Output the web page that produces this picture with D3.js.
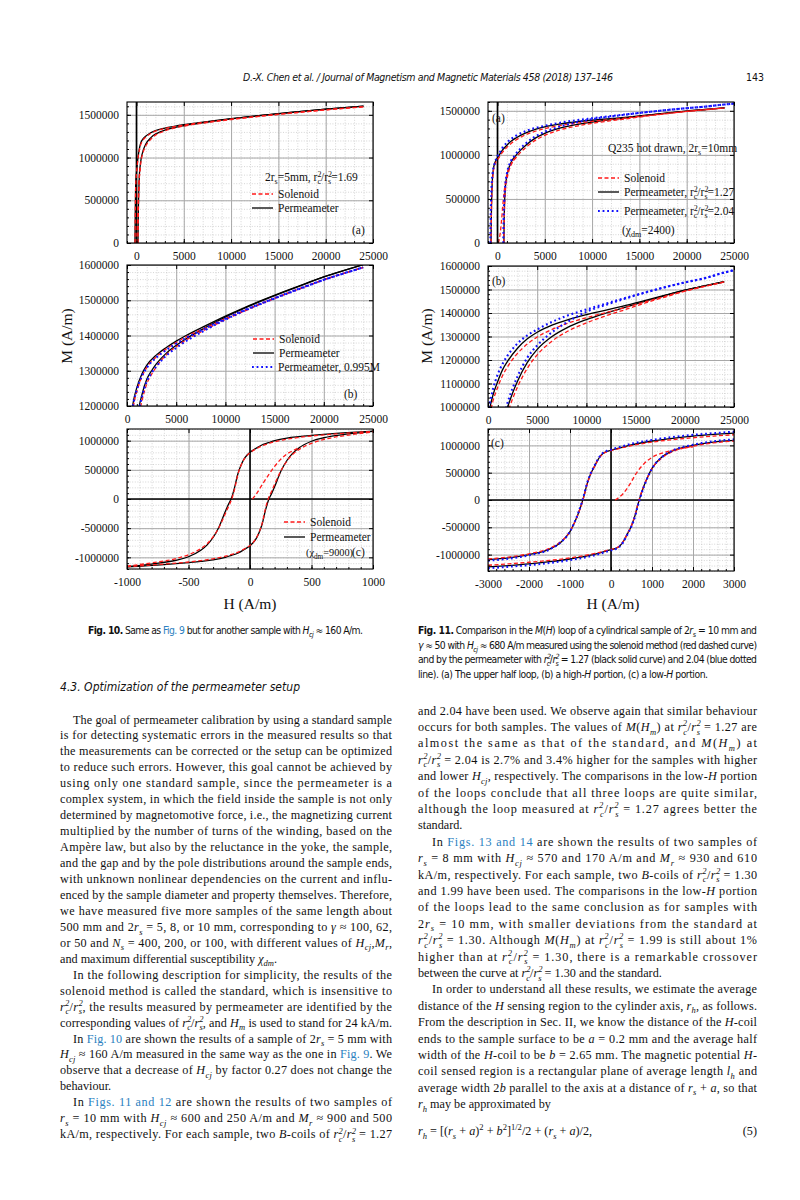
<!DOCTYPE html>
<html>
<head>
<meta charset="utf-8">
<script src="https://cdn.jsdelivr.net/npm/d3@7"></script>
<style>
  body { margin: 0; background: #fff; }
</style>
</head>
<body>
<svg id="page" width="800" height="1200"></svg>
<script>
"use strict";

// ---------- Fig. 10 : upper half loop (panels a, b) ----------
const h10DescHi = [-160, -140, -120, -100, -60, 0, 100, 200, 300, 400, 550, 700, 1000, 1500, 2000, 3000, 4000, 5000, 6000, 8000, 10000, 12000, 14000, 16000, 18000, 20000, 22000, 24000];
const m10PermDescHi = [0, 200000, 420000, 580000, 740000, 820000, 940000, 1030000, 1100000, 1150000, 1195000, 1220000, 1252000, 1290000, 1315000, 1345000, 1366000, 1384000, 1400000, 1428000, 1455000, 1480000, 1503000, 1525000, 1546000, 1566000, 1584000, 1601000];
const m10SolDescHi = [0, 190000, 400000, 560000, 720000, 810000, 925000, 1015000, 1085000, 1135000, 1180000, 1207000, 1241000, 1282000, 1309000, 1340000, 1362000, 1380000, 1396000, 1422000, 1448000, 1472000, 1495000, 1517000, 1538000, 1558000, 1576000, 1593000];
const m10ScaledDescHi = [0, 199000, 418000, 577000, 736000, 816000, 935000, 1025000, 1095000, 1144000, 1189000, 1214000, 1246000, 1284000, 1308000, 1338000, 1359000, 1377000, 1393000, 1421000, 1448000, 1473000, 1495000, 1517000, 1538000, 1558000, 1576000, 1593000];

const h10AscHi = [160, 180, 200, 250, 300, 400, 500, 700, 1000, 1500, 2000, 2500, 3000, 4000, 5000, 6000, 8000, 10000, 12000, 14000, 16000, 18000, 20000, 22000, 24000];
const m10PermAscHi = [0, 200000, 380000, 620000, 780000, 910000, 990000, 1080000, 1160000, 1230000, 1275000, 1300000, 1320000, 1350000, 1372000, 1391000, 1423000, 1452000, 1478000, 1502000, 1524000, 1545000, 1566000, 1584000, 1601000];
const m10SolAscHi = [0, 180000, 350000, 590000, 750000, 885000, 970000, 1060000, 1140000, 1212000, 1262000, 1290000, 1312000, 1345000, 1368000, 1387000, 1417000, 1445000, 1470000, 1494000, 1516000, 1537000, 1558000, 1576000, 1593000];
const m10ScaledAscHi = [0, 199000, 378000, 617000, 776000, 905000, 985000, 1075000, 1154000, 1224000, 1269000, 1294000, 1313000, 1343000, 1365000, 1384000, 1416000, 1445000, 1471000, 1494000, 1516000, 1537000, 1558000, 1576000, 1593000];

// solenoid initial magnetization curve
const h10Init = [20, 50, 100, 150, 200, 250, 300, 350, 400];
const m10SolInit = [0, 80000, 250000, 410000, 560000, 680000, 770000, 830000, 880000];

// ---------- Fig. 10 : low-H loop (panel c) ----------
const h10DescLo = [-1000, -800, -600, -500, -400, -350, -300, -250, -200, -175, -150, -125, -100, -75, -50, -25, 0, 50, 100, 150, 200, 300, 400, 500, 700, 1000];
const m10PermDescLo = [-1160000, -1115000, -1050000, -990000, -880000, -790000, -660000, -470000, -210000, -90000, 20000, 200000, 420000, 570000, 680000, 750000, 800000, 870000, 930000, 965000, 1000000, 1045000, 1070000, 1090000, 1125000, 1165000];
const m10SolDescLo = [-1150000, -1095000, -1020000, -955000, -850000, -770000, -650000, -480000, -250000, -130000, -10000, 170000, 410000, 565000, 675000, 745000, 795000, 860000, 915000, 950000, 980000, 1025000, 1055000, 1080000, 1115000, 1160000];
const h10AscLo = [-1000, -700, -500, -400, -300, -200, -150, -100, -50, 0, 25, 50, 75, 100, 125, 150, 175, 200, 250, 300, 350, 400, 500, 600, 800, 1000];
const m10PermAscLo = [-1165000, -1125000, -1090000, -1070000, -1045000, -1000000, -965000, -930000, -870000, -800000, -750000, -680000, -570000, -420000, -200000, -20000, 90000, 210000, 470000, 660000, 790000, 880000, 990000, 1050000, 1115000, 1160000];
const m10SolAscLo = [-1160000, -1115000, -1080000, -1055000, -1025000, -980000, -950000, -915000, -860000, -795000, -745000, -675000, -565000, -410000, -170000, 10000, 130000, 250000, 480000, 650000, 770000, 850000, 955000, 1020000, 1095000, 1150000];

// ---------- Fig. 11 : upper half loop (panels a, b) ----------
const h11DescHi = [-680, -660, -630, -580, -500, -400, -200, 0, 200, 500, 1000, 1500, 2000, 3000, 4000, 5000, 6500, 8000, 10000, 12000, 14000, 16000, 18000, 20000, 22000, 24000];
const m11PermDescHi = [0, 200000, 420000, 620000, 770000, 860000, 930000, 965000, 1000000, 1050000, 1110000, 1160000, 1195000, 1250000, 1290000, 1318000, 1348000, 1370000, 1393000, 1412000, 1432000, 1454000, 1476000, 1497000, 1515000, 1533000];
const m11SolDescHi = [0, 180000, 390000, 590000, 740000, 840000, 910000, 945000, 975000, 1025000, 1085000, 1135000, 1172000, 1228000, 1268000, 1298000, 1330000, 1355000, 1380000, 1402000, 1424000, 1448000, 1471000, 1493000, 1513000, 1532000];
const h11AscHi = [680, 700, 750, 850, 1000, 1200, 1500, 2000, 2500, 3000, 4000, 5000, 6500, 8000, 10000, 12000, 14000, 16000, 18000, 20000, 22000, 24000];
const m11PermAscHi = [0, 200000, 450000, 650000, 760000, 850000, 930000, 1000000, 1060000, 1110000, 1190000, 1245000, 1300000, 1337000, 1372000, 1400000, 1425000, 1450000, 1474000, 1497000, 1515000, 1533000];
const m11SolAscHi = [0, 170000, 410000, 610000, 720000, 815000, 900000, 975000, 1035000, 1085000, 1165000, 1222000, 1280000, 1320000, 1358000, 1388000, 1415000, 1443000, 1468000, 1493000, 1513000, 1532000];

// permeameter with rc2/rs2 = 2.04
const h11WideDescHi = [-750, -720, -680, -620, -500, -300, 0, 200, 500, 1000, 1500, 2000, 3000, 4000, 5000, 6500, 8000, 10000, 12000, 14000, 16000, 18000, 20000, 22000, 24000, 25000];
const m11WideDescHi = [0, 250000, 480000, 650000, 800000, 900000, 985000, 1020000, 1075000, 1140000, 1185000, 1220000, 1270000, 1305000, 1330000, 1362000, 1388000, 1415000, 1440000, 1465000, 1488000, 1510000, 1530000, 1548000, 1572000, 1582000];
const h11WideAscHi = [620, 650, 720, 850, 1000, 1300, 1800, 2500, 3000, 4000, 5000, 6500, 8000, 10000, 12000, 14000, 16000, 18000, 20000, 22000, 24000, 25000];
const m11WideAscHi = [0, 250000, 480000, 680000, 790000, 900000, 990000, 1080000, 1130000, 1210000, 1262000, 1318000, 1360000, 1405000, 1435000, 1462000, 1487000, 1510000, 1530000, 1548000, 1572000, 1582000];

const h11Init = [100, 200, 300, 400, 500, 600, 800, 1000, 1250, 1500, 2000];
const m11SolInit = [0, 50000, 120000, 220000, 340000, 470000, 660000, 780000, 860000, 910000, 975000];

// ---------- Fig. 11 : low-H loop (panel c) ----------
const h11DescLo = [-3000, -2500, -2000, -1500, -1250, -1000, -900, -800, -700, -650, -600, -500, -400, -300, -200, -100, 0, 500, 1000, 1500, 2000, 2500, 3000];
const m11PermDescLo = [-1090000, -1060000, -1000000, -900000, -790000, -580000, -430000, -250000, -30000, 100000, 250000, 470000, 620000, 760000, 850000, 890000, 910000, 1010000, 1080000, 1130000, 1170000, 1200000, 1225000];
const m11SolDescLo = [-1080000, -1045000, -985000, -885000, -775000, -575000, -430000, -255000, -40000, 90000, 240000, 465000, 615000, 755000, 845000, 885000, 905000, 995000, 1060000, 1105000, 1140000, 1170000, 1195000];
const m11WideDescLo = [-1110000, -1075000, -1012000, -905000, -790000, -575000, -425000, -240000, -15000, 115000, 265000, 480000, 630000, 770000, 860000, 900000, 922000, 1030000, 1100000, 1152000, 1192000, 1222000, 1250000];
const h11AscLo = [-3000, -2500, -2000, -1500, -1000, -500, 0, 100, 200, 300, 400, 500, 600, 650, 700, 800, 900, 1000, 1250, 1500, 2000, 2500, 3000];
const m11PermAscLo = [-1225000, -1200000, -1170000, -1130000, -1080000, -1010000, -910000, -890000, -850000, -760000, -620000, -470000, -250000, -100000, 30000, 250000, 430000, 580000, 790000, 900000, 1000000, 1060000, 1090000];
const m11SolAscLo = [-1195000, -1170000, -1140000, -1105000, -1060000, -995000, -905000, -885000, -845000, -755000, -615000, -465000, -240000, -90000, 40000, 255000, 430000, 575000, 775000, 885000, 985000, 1045000, 1080000];
const m11WideAscLo = [-1250000, -1222000, -1192000, -1152000, -1100000, -1030000, -922000, -900000, -860000, -770000, -630000, -480000, -265000, -115000, 15000, 240000, 425000, 575000, 790000, 905000, 1012000, 1075000, 1110000];

// ---------- tick labels ----------
const ticksHiX = [0, 5000, 10000, 15000, 20000, 25000];
const ticks10cX = [-1000, -500, 0, 500, 1000];
const ticks11cX = [-3000, -2000, -1000, 0, 1000, 2000, 3000];
const ticksHalfY = [0, 500000, 1000000, 1500000];
const ticks10bY = [1200000, 1300000, 1400000, 1500000, 1600000];
const ticks11bY = [1000000, 1100000, 1200000, 1300000, 1400000, 1500000, 1600000];
const ticks10cY = [-1000000, -500000, 0, 500000, 1000000];
const ticks11cY = [-1000000, -500000, 0, 500000, 1000000];

// ---------- page text ----------
const headerText = "~D.-X. Chen et al. / Journal of Magnetism and Magnetic Materials 458 (2018) 137–146~";
const caption10 = "*Fig. 10.* Same as #Fig. 9# but for another sample with ~H_{cj}~ ≈ 160 A/m.";
const caption11 = [
  "*Fig. 11.* Comparison in the ~M~(~H~) loop of a cylindrical sample of 2~r_{s}~ = 10 mm and",
  "~γ~ ≈ 50 with ~H_{cj}~ ≈ 680 A/m measured using the solenoid method (red dashed curve)",
  "and by the permeameter with ~r%{2,c}~/~r%{2,s}~ = 1.27 (black solid curve) and 2.04 (blue dotted",
  "line). (a) The upper half loop, (b) a high-~H~ portion, (c) a low-~H~ portion.|"
];
const sectionTitle = "~4.3. Optimization of the permeameter setup~";

const leftLines = [
  "\tThe goal of permeameter calibration by using a standard sample",
  "is for detecting systematic errors in the measured results so that",
  "the measurements can be corrected or the setup can be optimized",
  "to reduce such errors. However, this goal cannot be achieved by",
  "using only one standard sample, since the permeameter is a",
  "complex system, in which the field inside the sample is not only",
  "determined by magnetomotive force, i.e., the magnetizing current",
  "multiplied by the number of turns of the winding, based on the",
  "Ampère law, but also by the reluctance in the yoke, the sample,",
  "and the gap and by the pole distributions around the sample ends,",
  "with unknown nonlinear dependencies on the current and influ-",
  "enced by the sample diameter and property themselves. Therefore,",
  "we have measured five more samples of the same length about",
  "500 mm and 2~r_{s}~ = 5, 8, or 10 mm, corresponding to ~γ~ ≈ 100, 62,",
  "or 50 and ~N_{s}~ = 400, 200, or 100, with different values of ~H_{cj}~,~M_{r}~,",
  "and maximum differential susceptibility ~χ_{dm}~.|",
  "\tIn the following description for simplicity, the results of the",
  "solenoid method is called the standard, which is insensitive to",
  "~r%{2,c}~/~r%{2,s}~, the results measured by permeameter are identified by the",
  "corresponding values of ~r%{2,c}~/~r%{2,s}~, and ~H_{m}~ is used to stand for 24 kA/m.",
  "\tIn #Fig. 10# are shown the results of a sample of 2~r_{s}~ = 5 mm with",
  "~H_{cj}~ ≈ 160 A/m measured in the same way as the one in #Fig. 9#. We",
  "observe that a decrease of ~H_{cj}~ by factor 0.27 does not change the",
  "behaviour.|",
  "\tIn #Figs. 11 and 12# are shown the results of two samples of",
  "~r_{s}~ = 10 mm with ~H_{cj}~ ≈ 600 and 250 A/m and ~M_{r}~ ≈ 900 and 500",
  "kA/m, respectively. For each sample, two ~B~-coils of ~r%{2,c}~/~r%{2,s}~ = 1.27"
];

const rightLines = [
  "and 2.04 have been used. We observe again that similar behaviour",
  "occurs for both samples. The values of ~M~(~H_{m}~) at ~r%{2,c}~/~r%{2,s}~ = 1.27 are",
  "almost the same as that of the standard, and ~M~(~H_{m}~) at",
  "~r%{2,c}~/~r%{2,s}~ = 2.04 is 2.7% and 3.4% higher for the samples with higher",
  "and lower ~H_{cj}~, respectively. The comparisons in the low-~H~ portion",
  "of the loops conclude that all three loops are quite similar,",
  "although the loop measured at ~r%{2,c}~/~r%{2,s}~ = 1.27 agrees better the",
  "standard.|",
  "\tIn #Figs. 13 and 14# are shown the results of two samples of",
  "~r_{s}~ = 8 mm with ~H_{cj}~ ≈ 570 and 170 A/m and ~M_{r}~ ≈ 930 and 610",
  "kA/m, respectively. For each sample, two ~B~-coils of ~r%{2,c}~/~r%{2,s}~ = 1.30",
  "and 1.99 have been used. The comparisons in the low-~H~ portion",
  "of the loops lead to the same conclusion as for samples with",
  "2~r_{s}~ = 10 mm, with smaller deviations from the standard at",
  "~r%{2,c}~/~r%{2,s}~ = 1.30. Although ~M~(~H_{m}~) at ~r%{2,c}~/~r%{2,s}~ = 1.99 is still about 1%",
  "higher than at ~r%{2,c}~/~r%{2,s}~ = 1.30, there is a remarkable crossover",
  "between the curve at ~r%{2,c}~/~r%{2,s}~ = 1.30 and the standard.|",
  "\tIn order to understand all these results, we estimate the average",
  "distance of the ~H~ sensing region to the cylinder axis, ~r_{h}~, as follows.",
  "From the description in Sec. II, we know the distance of the ~H~-coil",
  "ends to the sample surface to be ~a~ = 0.2 mm and the average half",
  "width of the ~H~-coil to be ~b~ = 2.65 mm. The magnetic potential ~H~-",
  "coil sensed region is a rectangular plane of average length ~l_{h}~ and",
  "average width 2~b~ parallel to the axis at a distance of ~r_{s}~ + ~a~, so that",
  "~r_{h}~ may be approximated by|"
];
const equationText = "~r_{h}~ = [(~r_{s}~ + ~a~)^{2} + ~b~^{2}]^{1/2}/2 + (~r_{s}~ + ~a~)/2,";

// =====================================================================

const svg = d3.select('#page');
svg.append('rect').attr('width', 800).attr('height', 1200).attr('fill', '#fff');

const SERIF = "'Liberation Serif', 'Times New Roman', serif";
const NARROW = "'Liberation Sans Narrow', 'DejaVu Sans Condensed', 'Liberation Sans', sans-serif";
const LINK = '#2b7fc0';

// small markup: ~italic~  *bold*  #link#  _{sub}  ^{sup}  %{sup,sub}
function rich(text, str, size) {
  let italic = false, bold = false, link = false, shift = 0, buf = '';
  const add = (s, kind, dx) => {
    const target = kind === 'sub' ? size * 0.3 : kind === 'sup' ? -size * 0.38 : 0;
    const t = text.append('tspan').text(s);
    if (target !== shift) t.attr('dy', target - shift);
    shift = target;
    if (kind) t.attr('font-size', size * 0.7);
    if (dx) t.attr('dx', dx);
    if (italic) t.attr('font-style', 'italic');
    if (bold) t.attr('font-weight', 'bold');
    if (link) t.attr('fill', LINK);
  };
  const flush = () => { if (buf) { add(buf); buf = ''; } };
  let i = 0;
  while (i < str.length) {
    const c = str[i];
    if (c === '~') { flush(); italic = !italic; i++; continue; }
    if (c === '*') { flush(); bold = !bold; i++; continue; }
    if (c === '#') { flush(); link = !link; i++; continue; }
    if ((c === '_' || c === '^') && str[i + 1] === '{') {
      flush();
      const j = str.indexOf('}', i);
      add(str.slice(i + 2, j), c === '_' ? 'sub' : 'sup');
      i = j + 1; continue;
    }
    if (c === '%' && str[i + 1] === '{') {
      flush();
      const j = str.indexOf('}', i);
      const parts = str.slice(i + 2, j).split(',');
      add(parts[0], 'sup');
      add(parts[1], 'sub', -size * 0.7 * 0.5 * parts[0].length);
      i = j + 1; continue;
    }
    buf += c; i++;
  }
  flush();
  return text;
}

function textLine(str, x, y, size, family, opts) {
  opts = opts || {};
  const t = svg.append('text')
    .attr('x', x).attr('y', y)
    .attr('font-family', family)
    .attr('font-size', size)
    .attr('fill', '#111')
    .attr('text-anchor', opts.anchor || 'start');
  rich(t, str, size);
  if (opts.width) t.attr('textLength', opts.width).attr('lengthAdjust', 'spacing');
  return t;
}

function column(lines, x0, x1, indent, y0, lh, size) {
  lines.forEach((raw, i) => {
    let s = raw, xs = x0, just = true;
    if (s.startsWith('\t')) { s = s.slice(1); xs = x0 + indent; }
    if (s.endsWith('|')) { s = s.slice(0, -1); just = false; }
    textLine(s, xs, y0 + i * lh, size, SERIF, just ? { width: x1 - xs } : {});
  });
}

// ---------------- chart panels ----------------
const STYLES = {
  perm: { stroke: '#000', width: 1.3, dash: null },
  sol: { stroke: '#ff1a1a', width: 1.3, dash: '4,2.5' },
  wide: { stroke: '#1010ff', width: 2.1, dash: '1.8,2.8' }
};

let clipCount = 0;

function drawPanel(p) {
  const g = svg.append('g').attr('class', 'panel');
  const x = d3.scaleLinear().domain(p.xDomain).range([p.left, p.left + p.width]);
  const y = d3.scaleLinear().domain(p.yDomain).range([p.top + p.height, p.top]);

  const minorVals = (dom, step) => {
    const out = [];
    for (let v = Math.ceil(dom[0] / step) * step; v <= dom[1] + 1e-6; v += step) out.push(v);
    return out;
  };
  const xMinor = minorVals(p.xDomain, p.xMinor);
  const yMinor = minorVals(p.yDomain, p.yMinor);

  // minor grid (dotted)
  g.append('g').attr('transform', `translate(0,${p.top + p.height})`)
    .call(d3.axisBottom(x).tickValues(xMinor).tickSize(-p.height).tickFormat(''))
    .call(s => s.select('.domain').remove())
    .selectAll('line').attr('stroke', '#c4c4c4').attr('stroke-width', 0.7).attr('stroke-dasharray', '1,1.6');
  g.append('g').attr('transform', `translate(${p.left},0)`)
    .call(d3.axisLeft(y).tickValues(yMinor).tickSize(-p.width).tickFormat(''))
    .call(s => s.select('.domain').remove())
    .selectAll('line').attr('stroke', '#c4c4c4').attr('stroke-width', 0.7).attr('stroke-dasharray', '1,1.6');

  // major grid
  g.append('g').attr('transform', `translate(0,${p.top + p.height})`)
    .call(d3.axisBottom(x).tickValues(p.xTicks).tickSize(-p.height).tickFormat(''))
    .call(s => s.select('.domain').remove())
    .selectAll('line').attr('stroke', '#a8a8a8').attr('stroke-width', 1);
  g.append('g').attr('transform', `translate(${p.left},0)`)
    .call(d3.axisLeft(y).tickValues(p.yTicks).tickSize(-p.width).tickFormat(''))
    .call(s => s.select('.domain').remove())
    .selectAll('line').attr('stroke', '#a8a8a8').attr('stroke-width', 1);

  // zero lines
  if (p.zeroX) {
    g.append('line').attr('x1', x(0)).attr('x2', x(0)).attr('y1', p.top).attr('y2', p.top + p.height)
      .attr('stroke', '#000').attr('stroke-width', 1.6);
  }
  if (p.zeroY) {
    g.append('line').attr('x1', p.left).attr('x2', p.left + p.width).attr('y1', y(0)).attr('y2', y(0))
      .attr('stroke', '#000').attr('stroke-width', 1.6);
  }

  // curves
  const clipId = 'clip' + (clipCount++);
  svg.append('clipPath').attr('id', clipId).append('rect')
    .attr('x', p.left).attr('y', p.top).attr('width', p.width).attr('height', p.height);
  const line = d3.line().x(d => x(d[0])).y(d => y(d[1])).curve(d3.curveMonotoneX);
  const curves = g.append('g').attr('clip-path', `url(#${clipId})`);
  ['perm', 'sol', 'wide'].forEach(kind => {
    p.series.filter(s => s.kind === kind).forEach(s => {
      const st = STYLES[kind];
      curves.append('path')
        .attr('d', line(d3.zip(s.h, s.m)))
        .attr('fill', 'none')
        .attr('stroke', st.stroke)
        .attr('stroke-width', st.width)
        .attr('stroke-dasharray', st.dash);
    });
  });

  // frame
  g.append('rect').attr('x', p.left).attr('y', p.top).attr('width', p.width).attr('height', p.height)
    .attr('fill', 'none').attr('stroke', '#000').attr('stroke-width', 1.1);

  // ticks on all four sides (inward)
  const fmt = d => String(d);
  const tickStyle = s => {
    s.attr('font-family', SERIF).attr('font-size', 11.5);
    s.select('.domain').remove();
    s.selectAll('line').attr('stroke', '#000').attr('stroke-width', 1);
    s.selectAll('text').attr('font-family', SERIF).attr('font-size', 11.5).attr('fill', '#111');
  };
  g.append('g').attr('transform', `translate(0,${p.top + p.height})`)
    .call(d3.axisBottom(x).tickValues(p.xTicks).tickSize(-4).tickPadding(9).tickFormat(fmt)).call(tickStyle);
  g.append('g').attr('transform', `translate(0,${p.top})`)
    .call(d3.axisTop(x).tickValues(p.xTicks).tickSize(-4).tickFormat('')).call(tickStyle);
  g.append('g').attr('transform', `translate(${p.left},0)`)
    .call(d3.axisLeft(y).tickValues(p.yTicks).tickSize(-4).tickPadding(8).tickFormat(fmt)).call(tickStyle);
  g.append('g').attr('transform', `translate(${p.left + p.width},0)`)
    .call(d3.axisRight(y).tickValues(p.yTicks).tickSize(-4).tickFormat('')).call(tickStyle);
  g.append('g').attr('transform', `translate(0,${p.top + p.height})`)
    .call(d3.axisBottom(x).tickValues(xMinor).tickSize(-2).tickFormat('')).call(tickStyle);
  g.append('g').attr('transform', `translate(${p.left},0)`)
    .call(d3.axisLeft(y).tickValues(yMinor).tickSize(-2).tickFormat('')).call(tickStyle);

  // legend and notes
  (p.legend || []).forEach(l => {
    if (l.kind) {
      const st = STYLES[l.kind];
      g.append('line').attr('x1', l.x).attr('x2', l.x + 21).attr('y1', l.y - 4).attr('y2', l.y - 4)
        .attr('stroke', st.stroke).attr('stroke-width', st.width).attr('stroke-dasharray', st.dash);
    }
    textLine(l.text, l.kind ? l.x + 26 : l.x, l.y, l.size || 11.5, SERIF);
  });
}

// ---------------- Fig. 10 ----------------
drawPanel({
  left: 127, top: 102, width: 246, height: 141,
  xDomain: [-1000, 25000], yDomain: [0, 1650000],
  xTicks: ticksHiX, yTicks: ticksHalfY, xMinor: 1000, yMinor: 100000, zeroX: true,
  series: [
    { kind: 'perm', h: h10DescHi, m: m10PermDescHi }, { kind: 'perm', h: h10AscHi, m: m10PermAscHi },
    { kind: 'sol', h: h10DescHi, m: m10SolDescHi }, { kind: 'sol', h: h10AscHi, m: m10SolAscHi },
    { kind: 'sol', h: h10Init, m: m10SolInit }
  ],
  legend: [
    { text: '2r_{s}=5mm, r%{2,c}/r%{2,s}=1.69', x: 265, y: 181 },
    { kind: 'sol', text: 'Solenoid', x: 252, y: 198 },
    { kind: 'perm', text: 'Permeameter', x: 252, y: 212 },
    { text: '(a)', x: 352, y: 234 }
  ]
});

drawPanel({
  left: 127, top: 265, width: 246, height: 141,
  xDomain: [0, 25000], yDomain: [1200000, 1600000],
  xTicks: ticksHiX, yTicks: ticks10bY, xMinor: 1000, yMinor: 20000,
  series: [
    { kind: 'perm', h: h10DescHi, m: m10PermDescHi }, { kind: 'perm', h: h10AscHi, m: m10PermAscHi },
    { kind: 'sol', h: h10DescHi, m: m10SolDescHi }, { kind: 'sol', h: h10AscHi, m: m10SolAscHi },
    { kind: 'wide', h: h10DescHi, m: m10ScaledDescHi }, { kind: 'wide', h: h10AscHi, m: m10ScaledAscHi }
  ],
  legend: [
    { kind: 'sol', text: 'Solenoid', x: 253, y: 343 },
    { kind: 'perm', text: 'Permeameter', x: 253, y: 357 },
    { kind: 'wide', text: 'Permeameter, 0.995M', x: 252, y: 371 },
    { text: '(b)', x: 344, y: 398 }
  ]
});

drawPanel({
  left: 127, top: 429, width: 246, height: 140,
  xDomain: [-1000, 1000], yDomain: [-1200000, 1200000],
  xTicks: ticks10cX, yTicks: ticks10cY, xMinor: 100, yMinor: 100000, zeroX: true, zeroY: true,
  series: [
    { kind: 'perm', h: h10DescLo, m: m10PermDescLo }, { kind: 'perm', h: h10AscLo, m: m10PermAscLo },
    { kind: 'sol', h: h10DescLo, m: m10SolDescLo }, { kind: 'sol', h: h10AscLo, m: m10SolAscLo },
    { kind: 'sol', h: h10Init, m: m10SolInit }
  ],
  legend: [
    { kind: 'sol', text: 'Solenoid', x: 284, y: 526 },
    { kind: 'perm', text: 'Permeameter', x: 284, y: 541 },
    { text: '(χ_{dm}=9000)', x: 306, y: 556, size: 10.3 },
    { text: '(c)', x: 352, y: 556 }
  ]
});

// ---------------- Fig. 11 ----------------
drawPanel({
  left: 488, top: 102, width: 246, height: 141,
  xDomain: [-1000, 25000], yDomain: [0, 1600000],
  xTicks: ticksHiX, yTicks: ticksHalfY, xMinor: 1000, yMinor: 100000, zeroX: true,
  series: [
    { kind: 'perm', h: h11DescHi, m: m11PermDescHi }, { kind: 'perm', h: h11AscHi, m: m11PermAscHi },
    { kind: 'sol', h: h11DescHi, m: m11SolDescHi }, { kind: 'sol', h: h11AscHi, m: m11SolAscHi },
    { kind: 'sol', h: h11Init, m: m11SolInit },
    { kind: 'wide', h: h11WideDescHi, m: m11WideDescHi }, { kind: 'wide', h: h11WideAscHi, m: m11WideAscHi }
  ],
  legend: [
    { text: '(a)', x: 492, y: 122 },
    { text: 'Q235 hot drawn,   2r_{s}=10mm', x: 608, y: 152 },
    { kind: 'sol', text: 'Solenoid', x: 598, y: 182 },
    { kind: 'perm', text: 'Permeameter, r%{2,c}/r%{2,s}=1.27', x: 598, y: 196 },
    { kind: 'wide', text: 'Permeameter, r%{2,c}/r%{2,s}=2.04', x: 598, y: 215 },
    { text: '(χ_{dm}=2400)', x: 622, y: 234 }
  ]
});

drawPanel({
  left: 488, top: 266, width: 246, height: 141,
  xDomain: [0, 25000], yDomain: [1000000, 1600000],
  xTicks: ticksHiX, yTicks: ticks11bY, xMinor: 1000, yMinor: 20000,
  series: [
    { kind: 'perm', h: h11DescHi, m: m11PermDescHi }, { kind: 'perm', h: h11AscHi, m: m11PermAscHi },
    { kind: 'sol', h: h11DescHi, m: m11SolDescHi }, { kind: 'sol', h: h11AscHi, m: m11SolAscHi },
    { kind: 'wide', h: h11WideDescHi, m: m11WideDescHi }, { kind: 'wide', h: h11WideAscHi, m: m11WideAscHi }
  ],
  legend: [
    { text: '(b)', x: 492, y: 285 }
  ]
});

drawPanel({
  left: 488, top: 429, width: 246, height: 142,
  xDomain: [-3000, 3000], yDomain: [-1300000, 1300000],
  xTicks: ticks11cX, yTicks: ticks11cY, xMinor: 200, yMinor: 100000, zeroX: true, zeroY: true,
  series: [
    { kind: 'perm', h: h11DescLo, m: m11PermDescLo }, { kind: 'perm', h: h11AscLo, m: m11PermAscLo },
    { kind: 'sol', h: h11DescLo, m: m11SolDescLo }, { kind: 'sol', h: h11AscLo, m: m11SolAscLo },
    { kind: 'sol', h: h11Init, m: m11SolInit },
    { kind: 'wide', h: h11DescLo, m: m11WideDescLo }, { kind: 'wide', h: h11AscLo, m: m11WideAscLo }
  ],
  legend: [
    { text: '(c)', x: 491, y: 447 }
  ]
});

// axis titles
[[72, 336], [432, 336]].forEach(([cx, cy]) => {
  svg.append('text').attr('transform', `translate(${cx},${cy}) rotate(-90)`)
    .attr('text-anchor', 'middle').attr('font-family', SERIF).attr('font-size', 15.5).attr('fill', '#111')
    .text('M  (A/m)');
});
[[250, 609], [613, 609]].forEach(([cx, cy]) => {
  svg.append('text').attr('x', cx).attr('y', cy)
    .attr('text-anchor', 'middle').attr('font-family', SERIF).attr('font-size', 15.5).attr('fill', '#111')
    .text('H  (A/m)');
});

// ---------------- page furniture ----------------
textLine(headerText, 243, 81, 10.5, NARROW, { width: 370 });
textLine('143', 764, 81, 10.5, NARROW, { anchor: 'end' });

textLine(caption10, 88, 634, 10.3, NARROW, { width: 275 });
caption11.forEach((raw, i) => {
  const last = raw.endsWith('|');
  const s = last ? raw.slice(0, -1) : raw;
  textLine(s, 418, 634 + i * 14.6, 10.3, NARROW, last ? { width: 290 } : { width: 339 });
});
textLine(sectionTitle, 60, 691, 12, NARROW, { width: 240 });

column(leftLines, 60, 392, 13, 723.5, 15.95, 12.2);
column(rightLines, 418, 757, 14, 714.5, 16.4, 12.2);
textLine(equationText, 418, 1135, 12.2, SERIF);
textLine('(5)', 757, 1135, 12.2, SERIF, { anchor: 'end' });
</script>
</body>
</html>
